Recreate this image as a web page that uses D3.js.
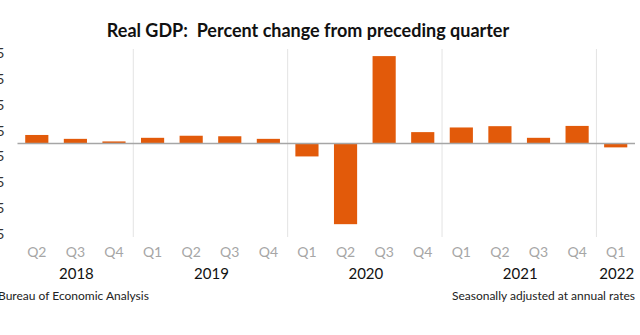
<!DOCTYPE html>
<html>
<head>
<meta charset="utf-8">
<script src="https://cdn.jsdelivr.net/npm/d3@7"></script>
<style>
  body { margin: 0; background: #fff; }
  svg { display: block; }
  text { font-family: Lato, "Open Sans", sans-serif; }
</style>
</head>
<body>
<script>
// data
var quarters = ["Q2","Q3","Q4","Q1","Q2","Q3","Q4","Q1","Q2","Q3","Q4","Q1","Q2","Q3","Q4","Q1"];
var years    = [2018,2018,2018,2019,2019,2019,2019,2020,2020,2020,2020,2021,2021,2021,2021,2022];
var values   = [3.3, 1.8, 0.8, 2.2, 3.0, 2.8, 1.8, -5.0, -31.2, 33.8, 4.4, 6.2, 6.7, 2.2, 6.8, -1.5];
var yTicks   = [35, 25, 15, 5, -5, -15, -25, -35];

var width = 640, height = 335;
var barColor = "#e25a0a";

var svg = d3.select("body").append("svg")
  .attr("width", width)
  .attr("height", height);

var keys = quarters.map(function(q, i) { return years[i] + q; });

var x = d3.scaleBand()
  .domain(keys)
  .range([17.5, 635])
  .paddingInner(0.4)
  .paddingOuter(0.2);

var y = d3.scaleLinear()
  .domain([-35, 35])
  .range([234, 53]);

var gap = x.step() - x.bandwidth();

//
// year separators
//
var seps = keys.filter(function(k, i) { return i > 0 && years[i] !== years[i - 1]; });
svg.selectAll(".sep")
  .data(seps)
  .enter().append("line")
  .attr("class", "sep")
  .attr("x1", function(k) { return x(k) - gap / 2; })
  .attr("x2", function(k) { return x(k) - gap / 2; })
  .attr("y1", y(35) - 4)
  .attr("y2", y(-35) + 3)
  .attr("stroke", "#e3e3e3")
  .attr("stroke-width", 1);

//
// bars
//
svg.selectAll(".bar")
  .data(values)
  .enter().append("rect")
  .attr("class", "bar")
  .attr("x", function(d, i) { return x(keys[i]); })
  .attr("width", x.bandwidth())
  .attr("y", function(d) { return d >= 0 ? y(d) : y(0); })
  .attr("height", function(d) { return Math.abs(y(d) - y(0)); })
  .attr("fill", barColor);

// zero line
svg.append("line")
  .attr("x1", x.range()[0])
  .attr("x2", x.range()[1])
  .attr("y1", y(0))
  .attr("y2", y(0))
  .attr("stroke", "#a6a6a6")
  .attr("stroke-width", 1.5);

//
// y axis labels (cut off at left edge, as in the original)
//
svg.selectAll(".ylab")
  .data(yTicks)
  .enter().append("text")
  .attr("class", "ylab")
  .attr("x", 4.5)
  .attr("y", function(d) { return y(d) + 5; })
  .attr("text-anchor", "end")
  .attr("font-size", 14)
  .attr("fill", "#333")
  .text(function(d) { return d; });

//
// category labels
//
svg.selectAll(".qlab")
  .data(keys)
  .enter().append("text")
  .attr("class", "qlab")
  .attr("x", function(k) { return x(k) + x.bandwidth() / 2; })
  .attr("y", 257)
  .attr("text-anchor", "middle")
  .attr("font-size", 14)
  .attr("fill", "#a6a6a6")
  .text(function(k, i) { return quarters[i]; });

var yearList = Array.from(new Set(years));
svg.selectAll(".ylabel")
  .data(yearList)
  .enter().append("text")
  .attr("class", "ylabel")
  .attr("x", function(yr) {
    var ks = keys.filter(function(k, i) { return years[i] === yr; });
    var a = x(ks[0]), b = x(ks[ks.length - 1]) + x.bandwidth();
    return (a + b) / 2 + 1;
  })
  .attr("y", 279)
  .attr("text-anchor", "middle")
  .attr("font-size", 15)
  .attr("fill", "#111")
  .text(function(yr) { return yr; });

//
// title and notes
//
svg.append("text")
  .attr("x", 308)
  .attr("y", 37)
  .attr("text-anchor", "middle")
  .attr("font-size", 18)
  .attr("font-weight", "bold")
  .attr("fill", "#111")
  .attr("xml:space", "preserve")
  .text("Real GDP:  Percent change from preceding quarter");

svg.append("text")
  .attr("x", -2)
  .attr("y", 300)
  .attr("font-size", 12)
  .attr("fill", "#222")
  .text("Bureau of Economic Analysis");

svg.append("text")
  .attr("x", 635)
  .attr("y", 300)
  .attr("text-anchor", "end")
  .attr("font-size", 12)
  .attr("fill", "#222")
  .text("Seasonally adjusted at annual rates");
</script>
</body>
</html>
